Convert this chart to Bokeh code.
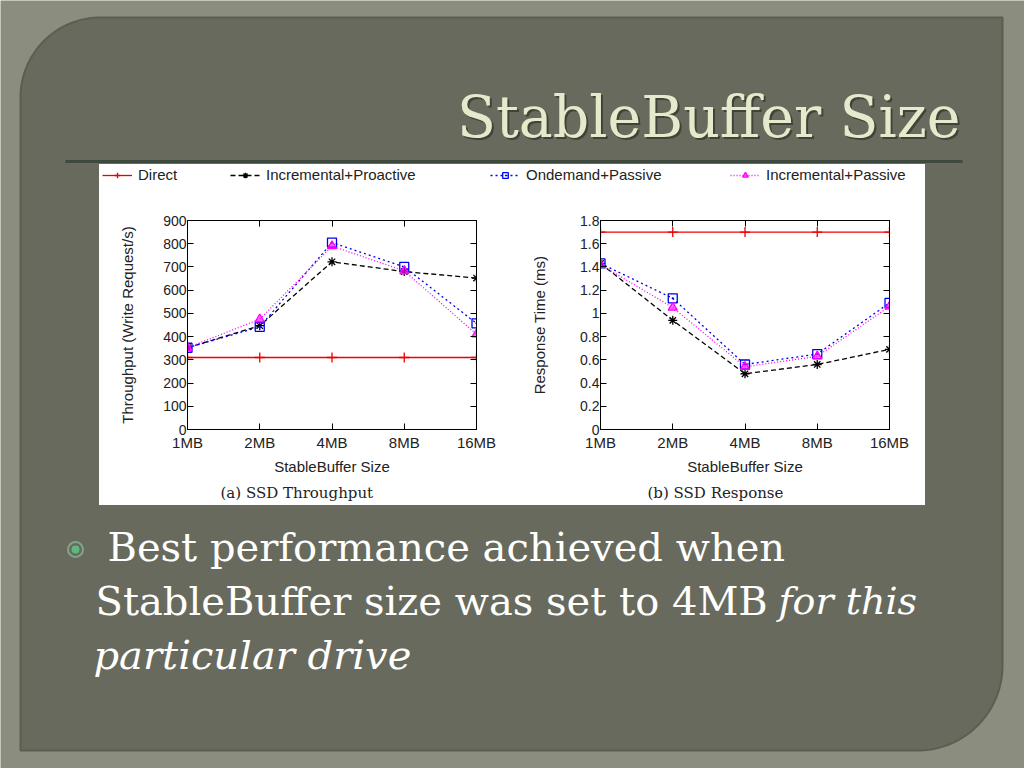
import numpy as np
from bokeh.plotting import figure
from bokeh.models import (Range1d, FixedTicker, LinearAxis, Legend, LegendItem,
                          NumeralTickFormatter, Title)
from bokeh.layouts import column, row
from bokeh.core.properties import value
from bokeh.embed import file_html
from bokeh.resources import INLINE

# ---------------- data ----------------
sizes = ["1MB", "2MB", "4MB", "8MB", "16MB"]
series_names = ["Direct", "Incremental+Proactive", "Ondemand+Passive", "Incremental+Passive"]

thr_direct = [310, 310, 310, 310, 310]
thr_inc_pro = [352, 447, 722, 680, 652]
thr_ond_pas = [352, 442, 805, 700, 457]
thr_inc_pas = [352, 475, 790, 683, 410]

rt_direct = [1.70, 1.70, 1.70, 1.70, 1.70]
rt_inc_pro = [1.43, 0.94, 0.48, 0.56, 0.69]
rt_ond_pas = [1.43, 1.13, 0.56, 0.65, 1.09]
rt_inc_pas = [1.42, 1.05, 0.54, 0.63, 1.06]

thr_ticks = [0, 100, 200, 300, 400, 500, 600, 700, 800, 900]
rt_ticks = [0, 0.2, 0.4, 0.6, 0.8, 1.0, 1.2, 1.4, 1.6, 1.8]

slide_title = "StableBuffer Size"
bullet_line1 = "Best performance achieved when"
bullet_line2 = "StableBuffer size was set to 4MB"
bullet_line2_italic = "for this"
bullet_line3_italic = "particular drive"

# ---------------- styles ----------------
OUTER = "#8b8e7e"
PANEL = "#676a5c"
SANS = "Liberation Sans"
SERIF = "DejaVu Serif"

styles = {
    "Direct": dict(color="#ee0000", dash="solid", marker="cross", size=10),
    "Incremental+Proactive": dict(color="#000000", dash="5 3", marker="asterisk", size=9),
    "Ondemand+Passive": dict(color="#0000ee", dash="2 3", marker="square_dot", size=9),
    "Incremental+Passive": dict(color="#ff00ff", dash="1 2", marker="triangle", size=9),
}

# slide panel outline (slide pixel coordinates)
t1 = np.linspace(np.pi, 1.5 * np.pi, 40)
t2 = np.linspace(0, 0.5 * np.pi, 40)
panel_x = [20] + list(100 + 80 * np.cos(t1)) + [1002] + list(917 + 85 * np.cos(t2)) + [20]
panel_y = [750] + list(97 + 80 * np.sin(t1)) + [17] + list(665 + 85 * np.sin(t2)) + [750]

# ---------------- slide background (one figure) ----------------
bg = figure(width=1024, height=768, x_range=Range1d(0, 1024), y_range=Range1d(768, 0),
            output_backend="svg", toolbar_location=None, tools="",
            x_axis_location=None, y_axis_location=None, min_border=0,
            background_fill_color=OUTER, border_fill_color=OUTER,
            outline_line_color=None)
bg.grid.visible = False
bg.patch(panel_x, panel_y, fill_color=PANEL, line_color="#5b5e51", line_width=2)

bg.text(x=[962], y=[118], text=[slide_title], text_font=value(SERIF),
        text_font_size="57px", text_color="#30342a", text_align="right",
        text_baseline="alphabetic", text_alpha=0.7)
bg.text(x=[960], y=[116], text=[slide_title], text_font=value(SERIF),
        text_font_size="57px", text_color="#e6e9cc", text_align="right",
        text_baseline="alphabetic")
bg.segment(x0=[65], y0=[161], x1=[962], y1=[161], line_color="#3e4a3e", line_width=3)

bg.scatter(x=[75], y=[549], marker="circle", size=15, fill_color=None,
           line_color="#7fa58a", line_width=2)
bg.scatter(x=[75], y=[549], marker="circle", size=8, fill_color="#5fb880",
           line_color=None)
bg.text(x=[107], y=[546], text=[bullet_line1], text_font=value(SERIF),
        text_font_size="40px", text_color="white", text_baseline="alphabetic")
bg.text(x=[95], y=[600], text=[bullet_line2], text_font=value(SERIF),
        text_font_size="40px", text_color="white", text_baseline="alphabetic")
bg.text(x=[778], y=[600], text=[bullet_line2_italic], text_font=value(SERIF),
        text_font_size="38px", text_color="white", text_baseline="alphabetic",
        text_font_style="italic")
bg.text(x=[93], y=[654], text=[bullet_line3_italic], text_font=value(SERIF),
        text_font_size="40px", text_color="white", text_baseline="alphabetic",
        text_font_style="italic")

# ---------------- legend strip ----------------
lp = figure(width=826, height=24, x_range=Range1d(0, 1), y_range=Range1d(0, 1),
            output_backend="svg", toolbar_location=None, tools="",
            x_axis_location=None, y_axis_location=None, min_border=0,
            background_fill_color="white", border_fill_color="white",
            outline_line_color=None)
lp.grid.visible = False
legend_x = [102, 230, 490, 730]
nan1 = np.array([np.nan])
for name, lx in zip(series_names, legend_x):
    s = styles[name]
    rl = lp.line(x=nan1, y=nan1, line_color=s["color"], line_dash=s["dash"], line_width=1.3)
    rm = lp.scatter(x=nan1, y=nan1, marker=s["marker"], size=s["size"], line_color=s["color"],
                    fill_color=s["color"] if s["marker"] == "triangle" else None,
                    fill_alpha=0.6, line_width=1.3)
    lg = Legend(items=[LegendItem(label=name, renderers=[rl, rm])], location=(lx - 99, 5),
                orientation="horizontal", padding=0, margin=0, spacing=0,
                glyph_width=30, glyph_height=14, label_standoff=6,
                label_text_font=SANS, label_text_font_size="15px",
                label_text_color="#222222",
                background_fill_alpha=0, border_line_color=None)
    lp.add_layout(lg)


# ---------------- charts ----------------
def chart(ylabel, ymax, yticks, series, caption, cap_offset, ylab_standoff, fmt=None):
    xs = list(range(len(sizes)))
    p = figure(width=413, height=317, x_range=Range1d(0, len(sizes) - 1),
               y_range=Range1d(0, ymax), output_backend="svg",
               toolbar_location=None, tools="",
               min_border_left=88, min_border_right=36, min_border_top=32,
               min_border_bottom=76, background_fill_color="white",
               border_fill_color="white", outline_line_color="black",
               outline_line_width=1)
    p.grid.visible = False
    p.xaxis.ticker = FixedTicker(ticks=xs)
    p.xaxis.major_label_overrides = {i: s for i, s in enumerate(sizes)}
    p.yaxis.ticker = FixedTicker(ticks=yticks)
    if fmt is not None:
        p.yaxis.formatter = fmt
    p.xaxis.axis_label = "StableBuffer Size"
    p.yaxis.axis_label = ylabel
    for ax in (p.xaxis[0], p.yaxis[0]):
        ax.major_tick_in = 6
        ax.major_tick_out = 0
        ax.minor_tick_line_color = None
        ax.axis_line_color = "black"
        ax.major_label_text_font = SANS
        ax.major_label_text_font_size = "15px"
        ax.major_label_text_color = "#222222"
        ax.axis_label_text_font = SANS
        ax.axis_label_text_font_size = "15px"
        ax.axis_label_text_font_style = "normal"
        ax.axis_label_text_color = "#222222"
    p.yaxis.major_label_text_font_size = "14px"
    p.xaxis.major_label_standoff = 4
    p.xaxis.axis_label_standoff = 4
    p.yaxis.major_label_standoff = 1
    p.yaxis.axis_label_standoff = ylab_standoff
    ra = LinearAxis(ticker=FixedTicker(ticks=yticks), major_tick_in=6, major_tick_out=0,
                    minor_tick_line_color=None, axis_line_color="black",
                    major_label_overrides={t: "" for t in yticks})
    ta = LinearAxis(ticker=FixedTicker(ticks=xs), major_tick_in=6, major_tick_out=0,
                    minor_tick_line_color=None, axis_line_color="black",
                    major_label_overrides={i: "" for i in xs})
    p.add_layout(ra, "right")
    p.add_layout(ta, "above")
    for name, ys in zip(series_names, series):
        s = styles[name]
        p.line(xs, ys, line_color=s["color"], line_dash=s["dash"], line_width=1.3)
        p.scatter(xs, ys, marker=s["marker"], size=s["size"], line_color=s["color"],
                  fill_color=s["color"] if s["marker"] == "triangle" else None,
                  fill_alpha=0.6, line_width=1.3)
    p.add_layout(Title(text=caption, align="left", offset=cap_offset, standoff=8,
                       text_font=SERIF, text_font_size="15px",
                       text_font_style="normal", text_color="#222222"), "below")
    return p


c1 = chart("Throughput (Write Request/s)", 900, thr_ticks,
           [thr_direct, thr_inc_pro, thr_ond_pas, thr_inc_pas], "(a) SSD Throughput", 33, 24)
c2 = chart("Response Time (ms)", 1.8, rt_ticks,
           [rt_direct, rt_inc_pro, rt_ond_pas, rt_inc_pas], "(b) SSD Response", 47, 29,
           fmt=NumeralTickFormatter(format="0.[0]"))

white_area = column(lp, row(c1, c2, styles={"background-color": "white"}),
                    styles={"background-color": "white", "position": "absolute",
                            "left": "99px", "top": "164px", "z-index": "2"})
layout = column(bg, white_area, styles={"position": "relative"})

open("out.html", "w").write(file_html(layout, INLINE))
